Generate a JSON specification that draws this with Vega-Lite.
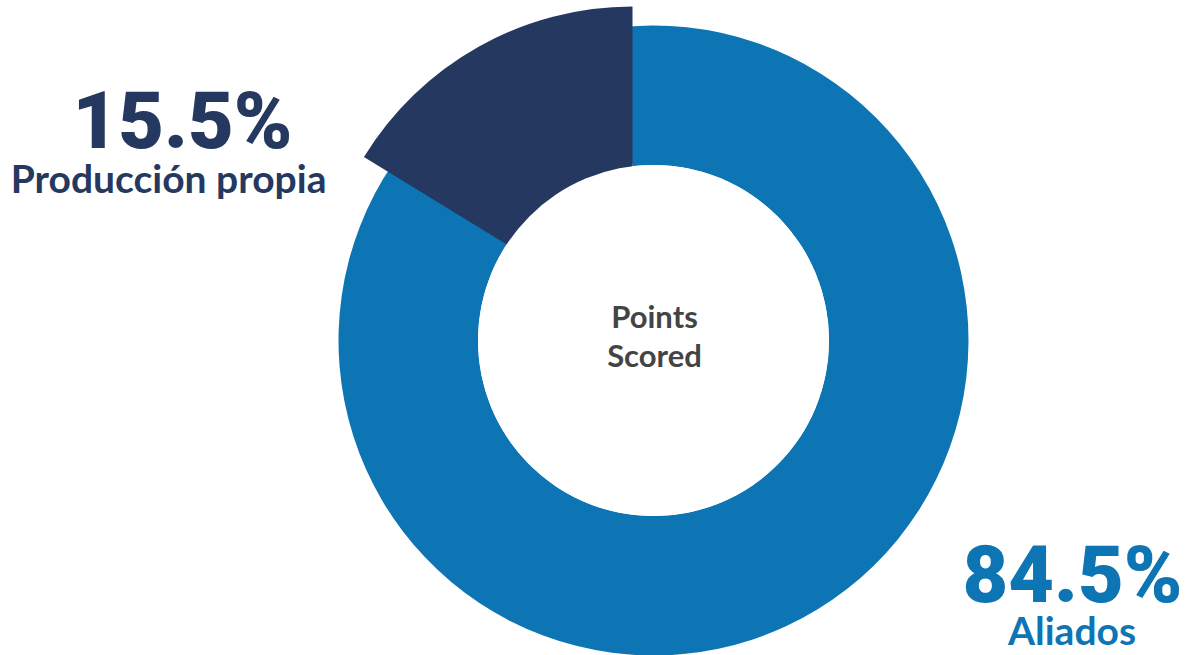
{
  "$schema": "https://vega.github.io/schema/vega-lite/v6.json",
  "width": 1075,
  "height": 629,
  "autosize": {"type": "none"},
  "padding": {"left": 116, "top": 26, "right": 0, "bottom": 0},
  "background": "white",
  "view": {"stroke": null},
  "data": {
    "values": [
      {"categoria": "Aliados", "valor": 0.845},
      {"categoria": "Producción propia", "valor": 0.155}
    ]
  },
  "transform": [
    {"stack": "valor", "groupby": [], "sort": [{"field": "categoria", "order": "ascending"}], "as": ["v0", "v1"]}
  ],
  "layer": [
    {
      "transform": [{"filter": "datum.categoria === 'Aliados'"}],
      "mark": {"type": "arc", "radius": 315, "radius2": 175.5, "thetaOffset": -0.12},
      "encoding": {
        "theta": {"field": "v0", "type": "quantitative", "stack": null, "scale": {"domain": [0, 1], "range": [0, 6.283185307]}},
        "theta2": {"field": "v1"},
        "color": {"field": "categoria", "type": "nominal", "scale": {"domain": ["Aliados", "Producción propia"], "range": ["#0E75B5", "#253860"]}, "legend": null}
      }
    },
    {
      "transform": [{"filter": "datum.categoria === 'Producción propia'"}],
      "mark": {"type": "arc", "radius": 315, "radius2": 100, "thetaOffset": -0.047, "xOffset": -21, "yOffset": -19},
      "encoding": {
        "theta": {"field": "v0", "type": "quantitative", "stack": null, "scale": {"domain": [0, 1], "range": [0, 6.283185307]}},
        "theta2": {"field": "v1"},
        "color": {"field": "categoria", "type": "nominal", "scale": {"domain": ["Aliados", "Producción propia"], "range": ["#0E75B5", "#253860"]}, "legend": null}
      }
    },
    {
      "transform": [{"filter": "datum.categoria === 'Aliados'"}],
      "mark": {"type": "arc", "radius": 175.5, "radius2": 0, "theta": 0, "theta2": 6.2832, "fill": "white", "stroke": null},
      "encoding": {}
    },
    {
      "transform": [{"filter": "datum.categoria === 'Aliados'"}],
      "mark": {"type": "text", "text": ["Points", "Scored"], "font": "Lato", "fontWeight": "bold", "fontSize": 31, "lineHeight": 39, "fill": "#444444", "align": "center", "baseline": "middle", "dx": 1, "dy": -22},
      "encoding": {}
    },
    {
      "transform": [{"filter": "datum.categoria === 'Producción propia'"}],
      "mark": {"type": "text", "font": "Roboto", "fontWeight": 900, "fontSize": 79, "align": "center", "baseline": "alphabetic", "theta": -1.1835, "radius": 508.8},
      "encoding": {
        "text": {"field": "valor", "type": "quantitative", "format": ".1%"},
        "color": {"field": "categoria", "type": "nominal", "scale": {"domain": ["Aliados", "Producción propia"], "range": ["#0E75B5", "#253860"]}, "legend": null}
      }
    },
    {
      "transform": [{"filter": "datum.categoria === 'Producción propia'"}],
      "mark": {"type": "text", "font": "Lato", "fontWeight": "bold", "fontSize": 39, "align": "center", "baseline": "alphabetic", "theta": -1.2754, "radius": 506.9},
      "encoding": {
        "text": {"field": "categoria", "type": "nominal"},
        "color": {"field": "categoria", "type": "nominal", "scale": {"domain": ["Aliados", "Producción propia"], "range": ["#0E75B5", "#253860"]}, "legend": null}
      }
    },
    {
      "transform": [{"filter": "datum.categoria === 'Aliados'"}],
      "mark": {"type": "text", "font": "Roboto", "fontWeight": 900, "fontSize": 79, "align": "center", "baseline": "alphabetic", "theta": 2.1288, "radius": 493.9},
      "encoding": {
        "text": {"field": "valor", "type": "quantitative", "format": ".1%"},
        "color": {"field": "categoria", "type": "nominal", "scale": {"domain": ["Aliados", "Producción propia"], "range": ["#0E75B5", "#253860"]}, "legend": null}
      }
    },
    {
      "transform": [{"filter": "datum.categoria === 'Aliados'"}],
      "mark": {"type": "text", "font": "Lato", "fontWeight": "bold", "fontSize": 39, "align": "center", "baseline": "alphabetic", "theta": 2.1998, "radius": 517.6},
      "encoding": {
        "text": {"field": "categoria", "type": "nominal"},
        "color": {"field": "categoria", "type": "nominal", "scale": {"domain": ["Aliados", "Producción propia"], "range": ["#0E75B5", "#253860"]}, "legend": null}
      }
    }
  ]
}
